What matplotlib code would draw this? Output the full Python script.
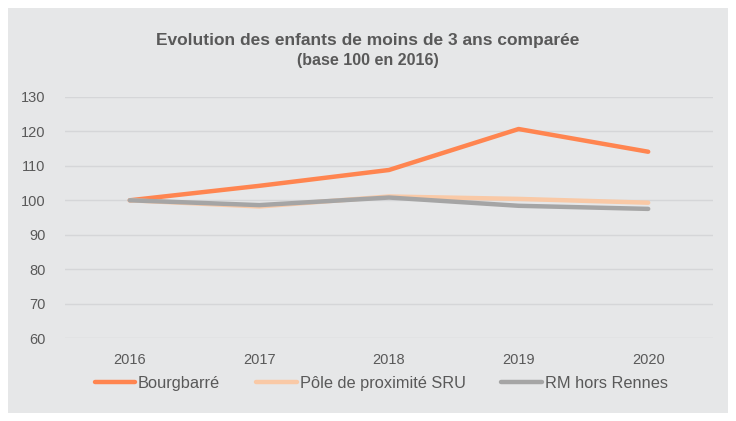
import matplotlib
matplotlib.use("Agg")
import matplotlib.pyplot as plt
from matplotlib import font_manager

names = {f.name for f in font_manager.fontManager.ttflist}
narrow = "Liberation Sans Narrow" if "Liberation Sans Narrow" in names else "Liberation Sans"
plt.rcParams['font.family'] = [narrow, 'DejaVu Sans']

years = ["2016", "2017", "2018", "2019", "2020"]
bourgbarre = [100, 104.2, 108.8, 120.7, 114.1]
pole = [100, 98.2, 101.1, 100.4, 99.3]
rm = [100, 98.6, 100.8, 98.4, 97.5]
series_names = ["Bourgbarré", "Pôle de proximité SRU", "RM hors Rennes"]
colors = ["#FF8550", "#F9C9A6", "#A5A5A5"]
yticks = [60, 70, 80, 90, 100, 110, 120, 130]

bg = "#E6E7E8"
txt = "#595959"

fig = plt.figure(figsize=(7.36, 4.21), dpi=100)
fig.patch.set_facecolor("white")
panel = plt.Rectangle((8/736, 1-413/421), 720/736, 405/421,
                      transform=fig.transFigure, facecolor=bg,
                      edgecolor="none", zorder=-10)
fig.add_artist(panel)

ax = fig.add_axes([65/736, 1-338/421, (713-65)/736, (338-97)/421])
ax.set_zorder(1)
ax.patch.set_visible(False)

x = list(range(len(years)))
for vals, name, c in zip([bourgbarre, pole, rm], series_names, colors):
    ax.plot(x, vals, color=c, lw=3.2, solid_capstyle="round", label=name)

ax.set_xlim(-0.5, len(years) - 0.5)
ax.set_ylim(60, 130)
ax.set_yticks(yticks)
ax.set_xticks(x)
ax.set_xticklabels(years)
ax.grid(axis="y", color="#D5D6D8", lw=1)
ax.set_axisbelow(True)
for s in ax.spines.values():
    s.set_visible(False)
ax.tick_params(length=0, colors=txt, labelsize=10.5)
ax.tick_params(axis="y", pad=14)
ax.tick_params(axis="x", pad=10.5)

fig.text(0.5, 1-40/421, "Evolution des enfants de moins de 3 ans comparée",
         ha="center", va="center", fontsize=12.5, fontweight="bold", color=txt)
fig.text(0.5, 1-61/421, "(base 100 en 2016)", ha="center", va="center",
         fontsize=11.5, fontweight="bold", color=txt)

leg = ax.legend(loc="center", bbox_to_anchor=(0.488, -0.188), ncol=3, frameon=False,
                fontsize=11.8, handlelength=2.5, handletextpad=0.15, columnspacing=2.2,
                labelcolor=txt)

fig.savefig("out.png", dpi=100, facecolor="white")
